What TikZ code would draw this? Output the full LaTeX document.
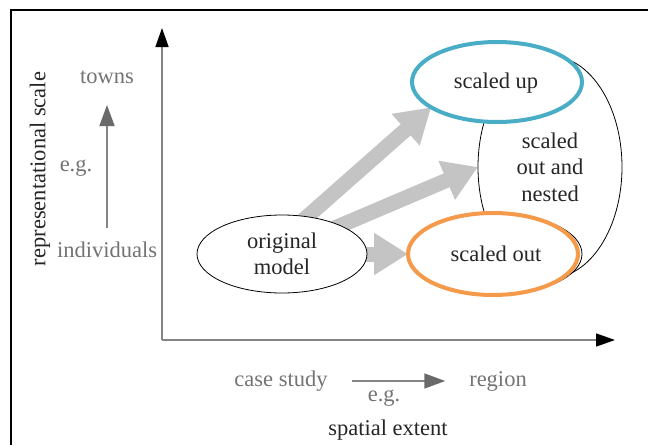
\documentclass[tikz,border=0pt]{standalone}
\usepackage{fontspec}
\setmainfont{Liberation Serif}
\usetikzlibrary{arrows.meta,shapes.geometric,backgrounds}
\definecolor{bluering}{HTML}{4AADC6}
\definecolor{orangering}{HTML}{F5994A}
\definecolor{flowgray}{HTML}{C4C4C4}
\definecolor{labelgray}{HTML}{737373}
\definecolor{axisgray}{HTML}{858585}
\definecolor{tipgray}{HTML}{6A6A6A}
\definecolor{inkdark}{HTML}{262626}

\tikzset{
  lbl/.style={font=\fontsize{22.5}{26.5}\selectfont, inner sep=0pt, outer sep=0pt, align=center},
  oval/.style={lbl, ellipse, draw=black, line width=0.8pt, text=inkdark},
  ring/.style={oval, fill=white, line width=4pt},
  axisline/.style={draw=axisgray, line width=1.6pt,
    -{Triangle[length=19pt,width=13pt,color=black]}},
  smallarrow/.style={draw=axisgray, line width=1.6pt,
    -{Triangle[length=21pt,width=15pt,color=tipgray]}},
  flow/.style={draw=flowgray, line width=15pt, shorten <=-14pt,
    -{Triangle[length=34pt,width=40pt]}},
}

\begin{document}
\begin{tikzpicture}[x=1pt,y=-1pt]
\useasboundingbox (0,0) rectangle (648,445);

% outer frame
\draw[line width=2pt] (11,445) -- (11,10) -- (648,10);

% axes
\coordinate (origin) at (162,340);
\coordinate (ytip) at (162,28);
\coordinate (xtip) at (615,340);
\draw[axisline] (origin) -- (ytip);
\draw[axisline] (origin) -- (xtip);

% vertical axis labels
\node[lbl, rotate=90, text=inkdark] (yaxis) at (40,169) {representational scale};
\node[lbl, text=labelgray] (towns) at (107,77) {towns};
\node[lbl, text=labelgray] (indiv) at (107,250) {individuals};
\node[lbl, text=labelgray] (eg1) at (76,168) {e.g.};
\draw[smallarrow] ([yshift=22pt]indiv.center) -- ([yshift=-28pt]towns.center);

% horizontal axis labels
\node[lbl, text=labelgray] (case) at (281,381) {case study};
\node[lbl, text=labelgray] (region) at (498,381) {region};
\node[lbl, text=labelgray] (eg2) at (384,398) {e.g.};
\node[lbl, text=inkdark] (spatial) at (388,430) {spatial extent};
\draw[smallarrow] ([xshift=24pt]case.east) -- ([xshift=-24pt]region.west);

% model ellipses
\node[oval, fill=white, minimum width=170pt, minimum height=78pt] (orig) at (282,254) {original\\model};
\node[oval, minimum width=144pt, minimum height=222pt] (nest) at (550,167)
  {scaled\\out and\\nested};
\draw[line width=0.8pt] (495,82) ellipse [x radius=84pt, y radius=39pt];
\draw[line width=0.8pt] (498,254) ellipse [x radius=84pt, y radius=40pt];
\node[ring, draw=bluering, minimum width=170pt, minimum height=80pt] (up) at (497,82) {};
\node[lbl, text=inkdark] (uptext) at (496,83) {scaled up};
\node[ring, draw=orangering, minimum width=170pt, minimum height=82pt] (out) at (493,254) {};
\node[lbl, text=inkdark] (outtext) at (496,254) {scaled out};

% flows from the original model
\begin{pgfonlayer}{background}
  \draw[flow] (orig.56) -- (up.201);
  \draw[flow] (orig.26) -- (nest.180);
  \draw[flow] (orig.0) -- (out.180);
\end{pgfonlayer}
\end{tikzpicture}
\end{document}
